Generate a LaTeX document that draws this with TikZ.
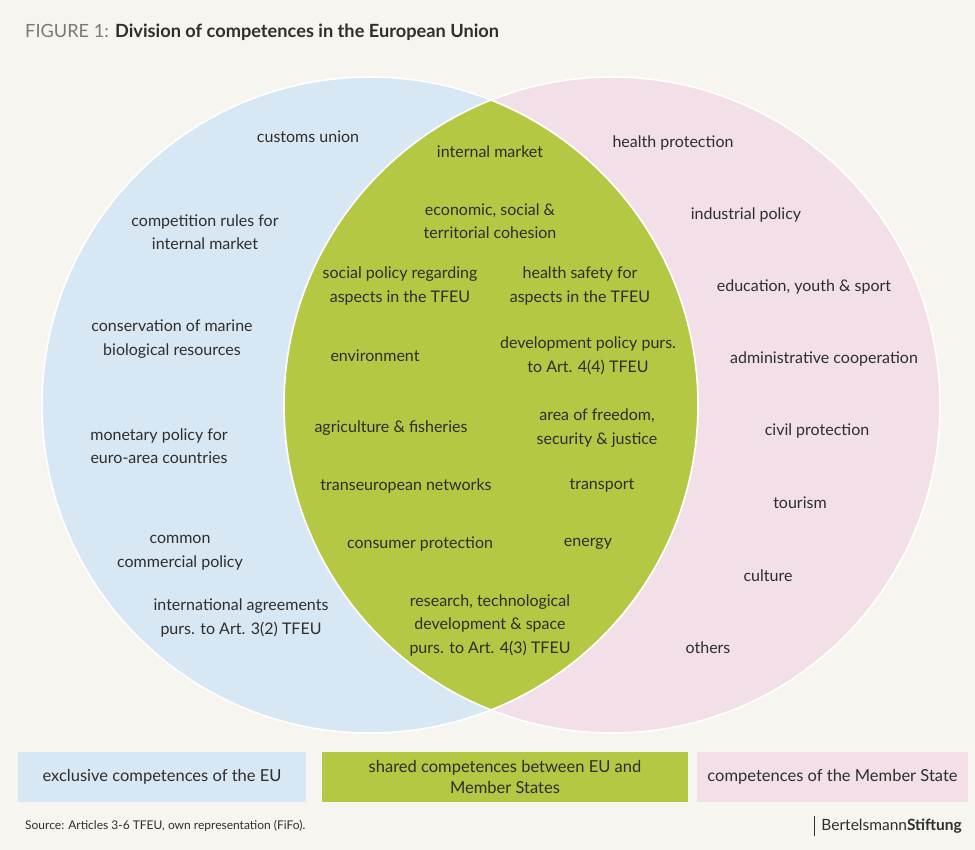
\documentclass[tikz,border=0pt]{standalone}
\usepackage{fontspec}
\setmainfont{Lato}
\definecolor{bgc}{HTML}{F6F5EF}
\definecolor{eublue}{HTML}{D7E7F3}
\definecolor{mspink}{HTML}{F2DFE7}
\definecolor{shgreen}{HTML}{B4C843}
\definecolor{txt}{HTML}{2E2E2E}
\definecolor{ttl}{HTML}{7A7A7A}
\tikzset{
  lbl/.style={align=center, text=txt, font=\fontsize{16}{23.5}\selectfont, inner sep=0pt},
  legbox/.style={minimum height=50pt, inner sep=0pt, align=center, text=txt, font=\fontsize{16.5}{21}\selectfont},
  venn/.style={circle, minimum size=656pt, inner sep=0pt}
}
\begin{document}
\begin{tikzpicture}[x=1pt,y=-1pt]
\useasboundingbox (0,0) rectangle (975,850);
\fill[bgc] (0,0) rectangle (975,850);
% title
\node[anchor=west, inner sep=0pt, font=\fontsize{18.2}{21}\selectfont] (title) at (25,32)
  {\textcolor{ttl}{FIGURE 1:} \textcolor{txt}{\bfseries Division of competences in the European Union}};
% circles
\node[venn, fill=eublue] (eu) at (370,405) {};
\node[venn, fill=mspink] (ms) at (612,405) {};
\begin{scope}
  \clip (370,405) circle (328);
  \fill[shgreen] (612,405) circle (328);
\end{scope}
\draw[white, line width=1.6pt] (eu.center) circle (328);
\draw[white, line width=1.6pt] (ms.center) circle (328);
% exclusive
\node[lbl] (e1) at (308,137) {customs union};
\node[lbl] (e2) at (205,232) {competition rules for\\internal market};
\node[lbl] (e3) at (172,339) {conservation of marine\\biological resources};
\node[lbl] (e4) at (159,446) {monetary policy for\\euro-area countries};
\node[lbl] (e5) at (180,553) {common\\commercial policy};
\node[lbl] (e6) at (241,618) {international agreements\\purs. to Art. 3(2) TFEU};
% shared
\node[lbl] (s1) at (490,152) {internal market};
\node[lbl] (s2) at (490,221) {economic, social \&\\territorial cohesion};
\node[lbl] (s3) at (400,286) {social policy regarding\\aspects in the TFEU};
\node[lbl] (s4) at (580,286) {health safety for\\aspects in the TFEU};
\node[lbl] (s5) at (375,356) {environment};
\node[lbl] (s6) at (588,356) {development policy purs.\\to Art. 4(4) TFEU};
\node[lbl] (s7) at (391,428) {agriculture \& fisheries};
\node[lbl] (s8) at (597,428) {area of freedom,\\security \& justice};
\node[lbl] (s9) at (406,486) {transeuropean networks};
\node[lbl] (s10) at (602,486) {transport};
\node[lbl] (s11) at (420,544) {consumer protection};
\node[lbl] (s12) at (588,544) {energy};
\node[lbl] (s13) at (490,625) {research, technological\\development \& space\\purs. to Art. 4(3) TFEU};
% member states
\node[lbl] (m1) at (673,143) {health protection};
\node[lbl] (m2) at (746,215) {industrial policy};
\node[lbl] (m3) at (804,287) {education, youth \& sport};
\node[lbl] (m4) at (824,359) {administrative cooperation};
\node[lbl] (m5) at (817,431) {civil protection};
\node[lbl] (m6) at (800,503) {tourism};
\node[lbl] (m7) at (768,576) {culture};
\node[lbl] (m8) at (708,648) {others};
% legend
\node[legbox, fill=eublue, minimum width=288pt] (l1) at (162,777) {exclusive competences of the EU};
\node[legbox, fill=shgreen, minimum width=366pt] (l2) at (505,777) {shared competences between EU and\\Member States};
\node[legbox, fill=mspink, minimum width=271pt] (l3) at (832.5,777) {competences of the Member State};
% footer
\node[anchor=west, inner sep=0pt, text=txt, font=\fontsize{12}{14}\selectfont] (src) at (25,826)
  {Source: Articles 3-6 TFEU, own representation (FiFo).};
\node[anchor=east, inner sep=0pt, text=txt, font=\fontsize{15.5}{17}\selectfont] (bs) at (962,826)
  {Bertelsmann\textbf{Stiftung}};
\draw[txt, line width=0.8pt] ([xshift=-7pt,yshift=10pt]bs.west) -- ([xshift=-7pt,yshift=-10pt]bs.west);
\end{tikzpicture}
\end{document}
